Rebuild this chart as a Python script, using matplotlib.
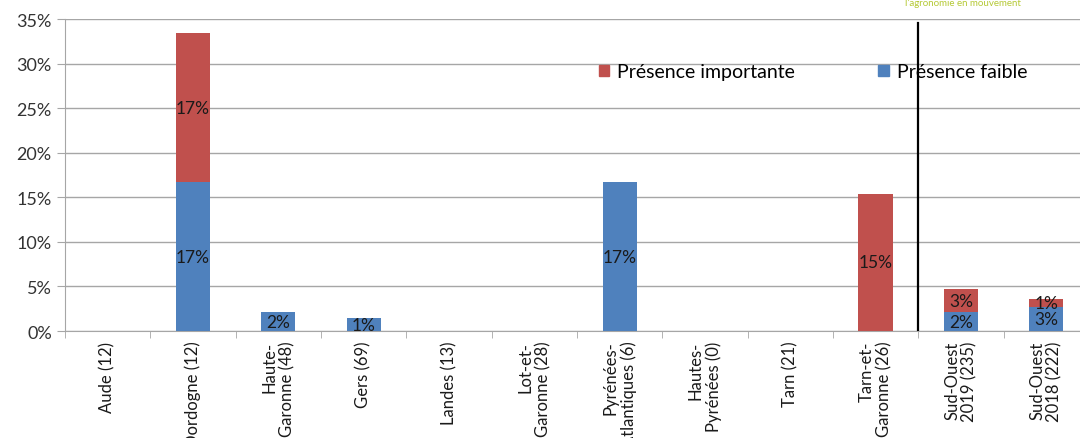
import matplotlib.pyplot as plt
from matplotlib.patches import Patch
from matplotlib.ticker import PercentFormatter, FixedLocator

plt.rcParams['font.family'] = ['Lato', 'DejaVu Sans']

# Départements (nombre de parcelles observées)
categories = ["Aude (12)", "Dordogne (12)", "Haute-\nGaronne (48)", "Gers (69)",
              "Landes (13)", "Lot-et-\nGaronne (28)", "Pyrénées-\nAtlantiques (6)",
              "Hautes-\nPyrénées (0)", "Tarn (21)", "Tarn-et-\nGaronne (26)",
              "Sud-Ouest\n2019 (235)", "Sud-Ouest\n2018 (222)"]

# Pourcentages de parcelles
faible = [0, 16.7, 2.08, 1.45, 0, 0, 16.7, 0, 0, 0, 2.13, 2.7]
importante = [0, 16.7, 0, 0, 0, 0, 0, 0, 0, 15.4, 2.55, 0.9]

bleu = '#4f81bd'
rouge = '#c0504d'

fig = plt.figure(figsize=(10.8, 4.39), dpi=100)
ax = fig.add_axes([0.0602, 0.2437, 0.948, 0.7107])

x = range(len(categories))
ax.bar(x, faible, width=0.4, color=bleu, zorder=3)
ax.bar(x, importante, width=0.4, bottom=faible, color=rouge, zorder=3)

# Étiquettes au centre de chaque segment
for i in x:
    if faible[i] > 0:
        ax.text(i, faible[i] / 2, f"{faible[i]:.0f}%", ha='center', va='center',
                fontsize=12.5, color='#1a1a1a', zorder=4)
    if importante[i] > 0:
        ax.text(i, faible[i] + importante[i] / 2, f"{importante[i]:.0f}%",
                ha='center', va='center', fontsize=12.5, color='#1a1a1a', zorder=4)

ax.set_xlim(-0.5, len(categories) - 0.5)
ax.set_ylim(0, 35)
ax.yaxis.set_major_locator(FixedLocator(range(0, 36, 5)))
ax.yaxis.set_major_formatter(PercentFormatter(decimals=0))
ax.grid(axis='y', color='#a6a6a6', linewidth=1, zorder=0)

ax.set_xticks(list(x))
ax.set_xticklabels(categories, rotation=90, ha='center', va='top',
                   multialignment='right', fontsize=12, color='#1a1a1a',
                   linespacing=1.1)
ax.tick_params(axis='x', length=0, pad=7)
ax.set_xticks([i + 0.5 for i in range(-1, len(categories))], minor=True)
ax.tick_params(axis='x', which='minor', length=5, color='#a6a6a6')
ax.tick_params(axis='y', length=6, color='#a6a6a6', labelsize=13, labelcolor='#333333')

for s in ['top', 'right']:
    ax.spines[s].set_visible(False)
ax.spines['left'].set_color('#a6a6a6')
ax.spines['bottom'].set_color('#a6a6a6')

# Séparation entre départements et totaux régionaux
ax.axvline(9.5, ymin=0, ymax=0.987, color='black', linewidth=1.6, zorder=6)

handles = [Patch(color=rouge, label='Présence importante'),
           Patch(color=bleu, label='Présence faible')]
leg = ax.legend(handles=handles, ncol=2, frameon=False, fontsize=14,
                handlelength=0.55, handleheight=0.55, handletextpad=0.4,
                columnspacing=4.3, loc='center left',
                bbox_to_anchor=(0.538, 0.834), bbox_transform=fig.transFigure)
leg.set_zorder(5)

fig.text(0.838, 0.992, "l'agronomie en mouvement", color='#b5c935',
         fontsize=7, va='center', ha='left')

fig.savefig('out.png', dpi=100)
